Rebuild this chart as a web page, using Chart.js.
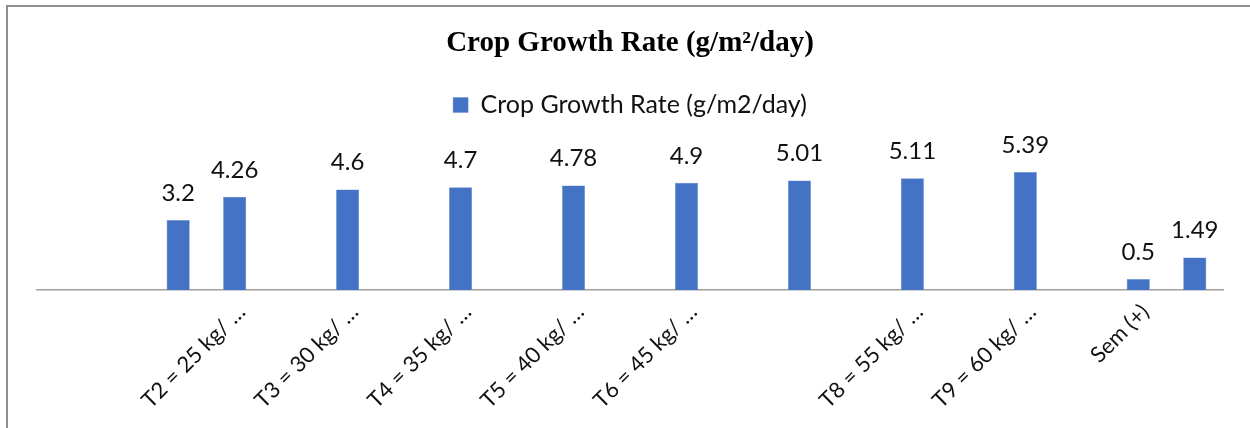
<!doctype html>
<html>
  <head>
    <title>Crop Growth Rate</title>
    <meta charset="UTF-8">
    <script src="https://cdn.jsdelivr.net/npm/chart.js"></script>
    <style>
      html, body { margin: 0; padding: 0; overflow: hidden; background: #fff; }
      #frame {
        position: absolute; left: 6px; top: 5px; width: 1300px; height: 500px;
        border-top: 2px solid #8e8e8e; border-left: 2px solid #8e8e8e;
      }
      #cgr { position: absolute; left: 0; top: 0; }
    </style>
  </head>
  <body>
    <div id="frame"></div>
    <canvas id="cgr" width="1250" height="428"></canvas>
    <script>
      // categories as laid out in the sheet (empty rows included)
      const categories = [
        '', '', '', 'T2 = 25 kg/ \u2026', '', 'T3 = 30 kg/ \u2026', '',
        'T4 = 35 kg/ \u2026', '', 'T5 = 40 kg/ \u2026', '', 'T6 = 45 kg/ \u2026',
        '', '', '', 'T8 = 55 kg/ \u2026', '', 'T9 = 60 kg/ \u2026', '',
        'Sem (+)', ''
      ];
      const growthRate = [
        null, null, 3.2, 4.26, null, 4.6, null, 4.7, null, 4.78, null, 4.9,
        null, 5.01, null, 5.11, null, 5.39, null, 0.5, 1.49
      ];

      const seriesName = 'Crop Growth Rate (g/m2/day)';
      const title = 'Crop Growth Rate (g/m\u00b2/day)';

      const valueLabels = {
        id: 'valueLabels',
        afterDatasetsDraw(chart) {
          const ctx = chart.ctx;
          const meta = chart.getDatasetMeta(0);
          ctx.save();
          ctx.font = '24px Lato';
          ctx.fillStyle = '#111';
          ctx.textAlign = 'center';
          ctx.textBaseline = 'alphabetic';
          meta.data.forEach((bar, i) => {
            const v = growthRate[i];
            if (v == null) return;
            ctx.fillText(String(v), bar.x, bar.y - 19);
          });
          ctx.restore();
        }
      };

      new Chart(document.getElementById('cgr'), {
        type: 'bar',
        data: {
          labels: categories,
          datasets: [{
            label: seriesName,
            data: growthRate,
            backgroundColor: '#4472C4',
            borderColor: '#6f93d3',
            borderWidth: 0.5,
            barPercentage: 0.41,
            categoryPercentage: 1
          }]
        },
        options: {
          responsive: false,
          animation: false,
          devicePixelRatio: 1,
          layout: { padding: { left: 37, right: 27, top: 0, bottom: 0 } },
          scales: {
            x: {
              grid: { display: false },
              border: { color: '#a0a0a0', width: 1.5 },
              ticks: {
                autoSkip: false,
                maxRotation: 45,
                minRotation: 45,
                color: '#111',
                font: { family: 'Lato', size: 22 },
                padding: 1,
                labelOffset: 7
              },
              afterFit(scale) { scale.height = 138; }
            },
            y: {
              display: false,
              min: 0,
              max: 7.43
            }
          },
          plugins: {
            title: {
              display: true,
              text: title,
              color: '#000',
              font: { family: 'Liberation Serif', size: 29, weight: 'bold' },
              padding: { top: 26.6, bottom: 21.1 }
            },
            legend: {
              labels: {
                color: '#111',
                font: { family: 'Lato', size: 25 },
                boxWidth: 15,
                boxHeight: 15,
                padding: 10
              }
            },
            tooltip: { enabled: false }
          }
        },
        plugins: [valueLabels]
      });
    </script>
  </body>
</html>
